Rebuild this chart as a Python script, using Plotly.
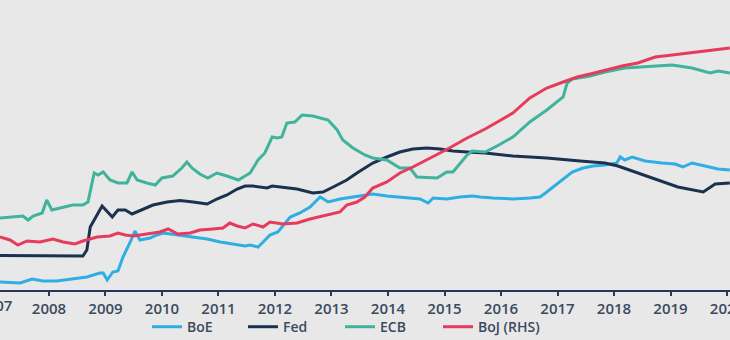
import plotly.graph_objects as go

# Balance sheet series (decimal year, value)
boe_t = [2007.13, 2007.49, 2007.70, 2007.89, 2008.14, 2008.42, 2008.67, 2008.90, 2008.96, 2009.03,
         2009.13, 2009.22, 2009.31, 2009.43, 2009.52, 2009.61, 2009.79, 2009.91, 2010.02, 2010.28,
         2010.55, 2010.80, 2011.03, 2011.26, 2011.47, 2011.56, 2011.70, 2011.79, 2011.91, 2012.05,
         2012.27, 2012.44, 2012.62, 2012.80, 2012.94, 2013.15, 2013.38, 2013.73, 2013.98, 2014.21,
         2014.57, 2014.71, 2014.80, 2015.04, 2015.27, 2015.50, 2015.63, 2015.86, 2016.21, 2016.51,
         2016.69, 2016.81, 2017.04, 2017.26, 2017.45, 2017.63, 2017.84, 2018.05, 2018.11, 2018.19,
         2018.32, 2018.55, 2018.85, 2019.08, 2019.22, 2019.38, 2019.61, 2019.84, 2020.05]
boe_v = [1.6, 1.4, 2.2, 1.8, 1.8, 2.2, 2.6, 3.4, 3.4, 2.0,
         3.6, 3.8, 6.6, 9.4, 11.8, 10.0, 10.4, 11.0, 11.4, 11.0,
         10.6, 10.2, 9.6, 9.2, 8.8, 9.0, 8.6, 9.6, 11.0, 11.6,
         14.6, 15.4, 16.6, 18.6, 17.6, 18.2, 18.6, 19.2, 18.8, 18.6,
         18.2, 17.4, 18.4, 18.2, 18.6, 18.8, 18.6, 18.4, 18.2, 18.4,
         18.6, 19.6, 21.6, 23.6, 24.4, 24.8, 25.0, 25.4, 26.6, 26.0,
         26.6, 25.8, 25.4, 25.2, 24.6, 25.4, 24.8, 24.2, 24.0]

fed_t = [2007.13, 2008.19, 2008.46, 2008.60, 2008.67, 2008.73, 2008.94, 2009.12, 2009.22, 2009.35,
         2009.47, 2009.61, 2009.84, 2010.09, 2010.32, 2010.55, 2010.80, 2010.97, 2011.15, 2011.33,
         2011.47, 2011.61, 2011.86, 2011.95, 2012.14, 2012.39, 2012.67, 2012.85, 2013.03, 2013.27,
         2013.45, 2013.73, 2013.98, 2014.21, 2014.44, 2014.69, 2014.92, 2015.15, 2015.40, 2015.72,
         2016.21, 2016.81, 2017.40, 2017.84, 2018.07, 2018.42, 2018.78, 2019.13, 2019.58, 2019.79,
         2020.05]
fed_v = [6.9, 6.8, 6.7, 6.8, 8.0, 12.6, 16.8, 14.6, 16.0, 16.0,
         15.2, 15.9, 17.0, 17.6, 17.9, 17.6, 17.2, 18.2, 19.0, 20.2,
         20.8, 20.8, 20.4, 20.8, 20.6, 20.2, 19.4, 19.6, 20.6, 22.0,
         23.4, 25.4, 26.6, 27.6, 28.2, 28.4, 28.2, 27.8, 27.6, 27.4,
         26.8, 26.4, 25.8, 25.4, 24.8, 23.4, 22.0, 20.6, 19.6, 21.2,
         21.4]

ecb_t = [2007.13, 2007.54, 2007.63, 2007.72, 2007.88, 2007.96, 2008.05, 2008.19, 2008.42, 2008.60,
         2008.69, 2008.80, 2008.87, 2008.96, 2009.08, 2009.22, 2009.38, 2009.47, 2009.56, 2009.73,
         2009.88, 2010.00, 2010.19, 2010.35, 2010.44, 2010.53, 2010.67, 2010.81, 2010.97, 2011.15,
         2011.35, 2011.47, 2011.56, 2011.70, 2011.82, 2011.95, 2012.04, 2012.12, 2012.21, 2012.35,
         2012.48, 2012.67, 2012.94, 2013.10, 2013.20, 2013.38, 2013.59, 2013.73, 2013.98, 2014.21,
         2014.39, 2014.51, 2014.87, 2015.04, 2015.15, 2015.40, 2015.49, 2015.72, 2015.93, 2016.21,
         2016.51, 2016.81, 2017.10, 2017.17, 2017.26, 2017.58, 2017.84, 2018.19, 2018.55, 2019.03,
         2019.38, 2019.70, 2019.84, 2020.05]
ecb_v = [14.4, 14.8, 14.0, 14.8, 15.4, 18.0, 16.0, 16.4, 17.0, 17.0,
         17.6, 23.4, 23.0, 23.6, 22.0, 21.4, 21.4, 23.6, 22.0, 21.4,
         21.0, 22.4, 22.8, 24.4, 25.6, 24.4, 23.2, 22.4, 23.4, 22.8,
         22.0, 22.8, 23.4, 26.0, 27.4, 30.6, 30.4, 30.6, 33.4, 33.6,
         35.0, 34.8, 34.0, 32.0, 30.0, 28.4, 27.0, 26.4, 26.0, 24.4,
         24.4, 22.6, 22.4, 23.6, 23.6, 27.0, 27.8, 27.6, 28.8, 30.6,
         33.6, 36.0, 38.6, 41.4, 42.2, 42.8, 43.6, 44.4, 44.6, 45.0,
         44.4, 43.4, 43.8, 43.4]

boj_t = [2007.13, 2007.31, 2007.45, 2007.61, 2007.84, 2008.07, 2008.25, 2008.46, 2008.60, 2008.85,
         2009.08, 2009.22, 2009.35, 2009.49, 2009.73, 2009.96, 2010.11, 2010.28, 2010.50, 2010.67,
         2010.90, 2011.08, 2011.20, 2011.33, 2011.47, 2011.61, 2011.79, 2011.91, 2012.14, 2012.39,
         2012.62, 2012.92, 2013.15, 2013.27, 2013.45, 2013.59, 2013.73, 2013.98, 2014.21, 2014.44,
         2014.69, 2014.92, 2015.15, 2015.40, 2015.72, 2015.93, 2016.21, 2016.51, 2016.81, 2017.10,
         2017.35, 2017.58, 2017.84, 2018.14, 2018.42, 2018.73, 2019.03, 2019.31, 2019.61, 2019.84,
         2020.05]
boj_v = [21.2, 20.0, 18.0, 19.6, 19.2, 20.4, 19.2, 18.4, 19.6, 21.2,
         21.6, 22.8, 22.0, 21.6, 22.4, 23.2, 24.4, 22.4, 22.8, 24.0,
         24.4, 24.8, 26.8, 25.6, 24.8, 26.4, 25.2, 27.2, 26.4, 26.8,
         28.4, 30.0, 31.2, 34.0, 35.2, 37.2, 40.8, 43.2, 46.8, 49.2,
         52.0, 54.8, 57.6, 60.8, 64.4, 67.2, 70.8, 76.8, 80.8, 83.2,
         85.2, 86.4, 88.0, 89.6, 90.8, 93.2, 94.0, 94.8, 95.6, 96.4,
         96.8]

years = list(range(2008, 2021))
year_labels = [str(y) for y in years]

BG = "#e8e8e8"
TXT = "#3b4a5f"
AXIS = "#27395a"
W = 730

fig = go.Figure()
fig.add_trace(go.Scatter(x=boe_t, y=boe_v, name="BoE", mode="lines", legend="legend",
                         line=dict(color="#2faee3", width=3)))
fig.add_trace(go.Scatter(x=fed_t, y=fed_v, name="Fed", mode="lines", legend="legend2",
                         line=dict(color="#1c3050", width=3)))
fig.add_trace(go.Scatter(x=ecb_t, y=ecb_v, name="ECB", mode="lines", legend="legend3",
                         line=dict(color="#3fb39c", width=3)))
fig.add_trace(go.Scatter(x=boj_t, y=boj_v, name="BoJ (RHS)", mode="lines", yaxis="y2",
                         legend="legend4", line=dict(color="#e63b5d", width=3)))

legfont = dict(family="Open Sans", size=14, color=TXT, weight=600)


def leg(px):
    return dict(orientation="h", x=px / W, xanchor="left", y=-0.128, yanchor="middle",
                bgcolor="rgba(0,0,0,0)", font=legfont)


x0, x1 = 2007.133, 2020.053
fig.update_layout(
    width=W, height=340,
    margin=dict(l=0, r=0, t=0, b=50, autoexpand=False),
    paper_bgcolor=BG, plot_bgcolor=BG,
    font=dict(family="Open Sans", color=TXT, size=14),
    xaxis=dict(range=[x0, x1], tickvals=years, ticktext=year_labels, automargin=False,
               showgrid=False, zeroline=False, showline=True, linecolor=AXIS, linewidth=2,
               ticks="outside", ticklen=4, tickwidth=2, tickcolor=AXIS,
               ticklabeloverflow="allow",
               tickfont=dict(family="Open Sans", size=15, color=TXT, weight=600)),
    yaxis=dict(range=[0, 58], visible=False, showgrid=False, zeroline=False),
    yaxis2=dict(range=[0, 116], overlaying="y", side="right", visible=False,
                showgrid=False, zeroline=False),
    legend=leg(147), legend2=leg(243), legend3=leg(340), legend4=leg(438),
    showlegend=True,
)
fig.add_annotation(xref="paper", yref="paper", x=-5 / W, y=-0.052,
                   xanchor="center", yanchor="middle", showarrow=False, text="2007",
                   font=dict(family="Open Sans", size=15, color=TXT, weight=600))

fig.write_html("out.html")
